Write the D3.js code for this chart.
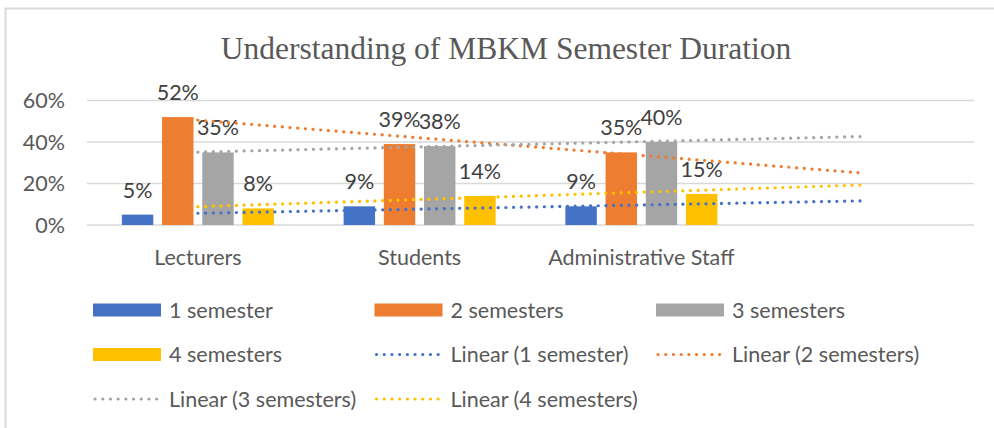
<!DOCTYPE html>
<html>
<head>
<meta charset="utf-8">
<script src="https://cdn.jsdelivr.net/npm/d3@7"></script>
<style>
  body { margin: 0; background: #fff; }
  text { font-family: Lato, "Open Sans", sans-serif; }
</style>
</head>
<body>
<div id="chart"></div>
<script>
// данные
const categories = ["Lecturers", "Students", "Administrative Staff"];
const seriesNames = ["1 semester", "2 semesters", "3 semesters", "4 semesters"];
const seriesColors = ["#4472c4", "#ed7d31", "#a5a5a5", "#ffc000"];
const values = [
    [5, 9, 9],     // 1 semester
    [52, 39, 35],  // 2 semesters
    [35, 38, 40],  // 3 semesters
    [8, 14, 15]    // 4 semesters
];
const yTicks = [0, 20, 40, 60];
const title = "Understanding of MBKM Semester Duration";

const width = 994, height = 428;
const fs = "21.5px";
const svg = d3.select("#chart").append("svg")
    .attr("width", width)
    .attr("height", height);

// рамка
svg.append("rect")
    .attr("x", 5.5).attr("y", 8.5)
    .attr("width", 1100).attr("height", 600)
    .attr("fill", "none")
    .attr("stroke", "#d9d9d9")
    .attr("stroke-width", 2);

svg.append("text")
    .attr("x", 506).attr("y", 59)
    .attr("text-anchor", "middle")
    .style("font-family", "'Liberation Serif', serif")
    .style("font-size", "31.5px")
    .attr("fill", "#595959")
    .text(title);

// 4 слота: последний пустой, туда уходит прогноз трендов
const slots = [...categories, "__forecast"];
const x0 = d3.scaleBand().domain(slots).range([87, 974]).padding(0);
const groupW = 152;
const x1 = d3.scaleBand().domain(seriesNames).range([0, groupW]).paddingInner(0.218);
const y = d3.scaleLinear().domain([0, 60]).range([225, 100.5]);

// сетка
svg.selectAll(".grid")
    .data(yTicks)
    .enter().append("line")
    .attr("x1", 87).attr("x2", 974)
    .attr("y1", d => y(d)).attr("y2", d => y(d))
    .attr("stroke", "#d9d9d9")
    .attr("stroke-width", 1.3);

svg.selectAll(".ytick")
    .data(yTicks)
    .enter().append("text")
    .attr("x", 65).attr("y", d => y(d) + 7.5)
    .attr("text-anchor", "end")
    .style("font-size", fs)
    .attr("fill", "#595959")
    .text(d => d + "%");

svg.selectAll(".xlab")
    .data(categories)
    .enter().append("text")
    .attr("x", d => x0(d) + x0.bandwidth() / 2)
    .attr("y", 264.5)
    .attr("text-anchor", "middle")
    .style("font-size", fs)
    .attr("fill", "#595959")
    .text(d => d);

// столбцы
const groups = svg.selectAll(".series")
    .data(seriesNames)
    .enter().append("g");

groups.each(function (s, i) {
    const g = d3.select(this);
    const pts = categories.map((c, j) => ({ c, v: values[i][j] }));
    const bx = d => x0(d.c) + x0.bandwidth() / 2 - groupW / 2 + x1(s);
    g.selectAll("rect")
        .data(pts)
        .enter().append("rect")
        .attr("x", bx)
        .attr("y", d => y(d.v))
        .attr("width", x1.bandwidth())
        .attr("height", d => y(0) - y(d.v))
        .attr("fill", seriesColors[i]);
    g.selectAll("text")
        .data(pts)
        .enter().append("text")
        .attr("x", d => bx(d) + x1.bandwidth() / 2)
        .attr("y", d => y(d.v) - 17)
        .attr("text-anchor", "middle")
        .style("font-size", fs)
        .attr("fill", "#404040")
        .text(d => d.v + "%");
});

// линейные тренды (МНК по точкам 1..3, прогноз на 1 период вперёд)
function linFit(ys) {
    const xs = ys.map((_, k) => k + 1);
    const mx = d3.mean(xs), my = d3.mean(ys);
    const b = d3.sum(xs, (xv, k) => (xv - mx) * (ys[k] - my)) / d3.sum(xs, xv => (xv - mx) ** 2);
    return xv => my + b * (xv - mx);
}
const cx = k => x0(slots[k - 1]) + x0.bandwidth() / 2;
const trendLine = d3.line().x(d => cx(d[0])).y(d => y(d[1]));
const dotted = sel => sel
    .attr("fill", "none")
    .attr("stroke-width", 3.2)
    .attr("stroke-linecap", "round")
    .attr("stroke-dasharray", "0.1 7.6");

values.forEach((ys, i) => {
    const f = linFit(ys);
    svg.append("path")
        .attr("d", trendLine([[1, f(1)], [4, f(4)]]))
        .attr("stroke", seriesColors[i])
        .call(dotted);
});

// легенда
const legendItems = [
    ...seriesNames.map((s, i) => ({ label: s, color: seriesColors[i], kind: "bar" })),
    ...seriesNames.map((s, i) => ({ label: `Linear (${s})`, color: seriesColors[i], kind: "line" }))
];
const legend = svg.selectAll(".legend")
    .data(legendItems)
    .enter().append("g")
    .attr("transform", (d, i) => `translate(${93 + (i % 3) * 281.5},${310 + Math.floor(i / 3) * 44.5})`);

legend.filter(d => d.kind === "bar").append("rect")
    .attr("x", 0).attr("y", -6.5)
    .attr("width", 68).attr("height", 13)
    .attr("fill", d => d.color);

legend.filter(d => d.kind === "line").append("line")
    .attr("x1", 2).attr("x2", 66)
    .attr("y1", 0).attr("y2", 0)
    .attr("stroke", d => d.color)
    .call(dotted);

legend.append("text")
    .attr("x", 76).attr("y", 7.5)
    .style("font-size", fs)
    .attr("fill", "#595959")
    .text(d => d.label);
</script>
</body>
</html>
